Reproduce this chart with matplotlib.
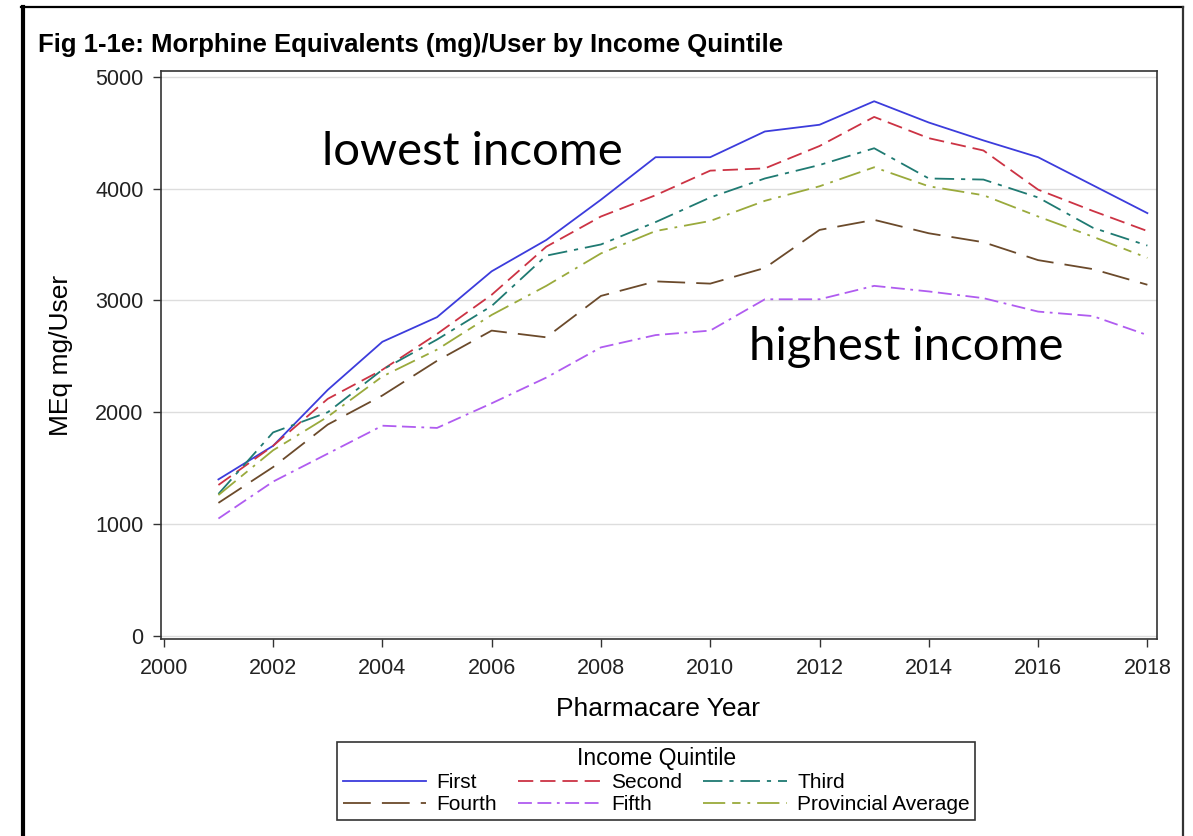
import matplotlib
matplotlib.use("Agg")
import matplotlib.pyplot as plt
from matplotlib.lines import Line2D

plt.rcParams['font.family'] = ['Liberation Sans', 'DejaVu Sans']
plt.rcParams['lines.scale_dashes'] = False

# pharmacare years
years = list(range(2001, 2019))

# morphine equivalents (mg) per user, by income quintile
first = [1400, 1700, 2200, 2630, 2850, 3260, 3540, 3900, 4280, 4280,
         4510, 4570, 4780, 4590, 4430, 4280, 4030, 3780]
second = [1350, 1700, 2120, 2380, 2700, 3050, 3480, 3750, 3940, 4160,
          4180, 4380, 4640, 4450, 4340, 3990, 3800, 3620]
third = [1270, 1820, 2000, 2380, 2650, 2950, 3400, 3500, 3700, 3920,
         4090, 4210, 4360, 4090, 4080, 3920, 3650, 3490]
fourth = [1190, 1510, 1890, 2150, 2460, 2730, 2670, 3040, 3170, 3150,
          3290, 3630, 3720, 3600, 3520, 3360, 3280, 3140]
fifth = [1050, 1380, 1630, 1880, 1860, 2080, 2310, 2580, 2690, 2730,
         3010, 3010, 3130, 3080, 3020, 2900, 2860, 2690]
provincial = [1260, 1660, 1960, 2320, 2560, 2870, 3130, 3420, 3620, 3710,
              3890, 4020, 4190, 4020, 3940, 3750, 3570, 3380]

labels = ['First', 'Second', 'Third', 'Fourth', 'Fifth', 'Provincial Average']
series = [first, second, third, fourth, fifth, provincial]
colors = ['#3c3cdc', '#cc3344', '#1f7a72', '#6b4a2b', '#b05cf0', '#9aaa3c']
dashes = [None, (11, 5), (14, 5, 3, 5), (20, 8), (10, 4, 10, 4, 2, 4), (16, 5, 6, 5, 2, 5)]

fig = plt.figure(figsize=(11.93, 8.36), dpi=100)
ax = fig.add_axes([0.135, 0.2356, 0.835, 0.6794])

handles = []
for vals, lab, col, d in zip(series, labels, colors, dashes):
    line, = ax.plot(years, vals, color=col, lw=1.3, label=lab)
    if d is not None:
        line.set_dashes(d)
    handles.append(line)

ax.set_xlim(1999.95, 2018.18)
ax.set_ylim(-27, 5050)
ax.set_xticks(range(2000, 2019, 2))
ax.set_yticks(range(0, 5001, 1000))
ax.grid(axis='y', color='#dddddd', lw=1)
ax.set_axisbelow(True)
ax.tick_params(labelsize=15.5, length=6, width=1, color='#333333', labelcolor='#222222')
ax.tick_params(axis='x', pad=8)
ax.tick_params(axis='y', pad=6.5)
for s in ax.spines.values():
    s.set_linewidth(1.2)
    s.set_color('#333333')

ax.set_xlabel('Pharmacare Year', fontsize=19)
ax.set_ylabel('MEq mg/User', fontsize=19)
ax.xaxis.set_label_coords(0.499, -0.102)
ax.yaxis.set_label_coords(-0.0884, 0.5)

fig.text(0.032, 0.946, 'Fig 1-1e: Morphine Equivalents (mg)/User by Income Quintile',
         fontsize=18.5, fontweight='bold', va='center')

fig.text(0.27, 0.818, 'lowest income', fontsize=34, family='Lato', va='center')
fig.text(0.628, 0.585, 'highest income', fontsize=34, family='Lato', va='center')

# legend is filled column by column, so reorder to read row by row
order = [0, 3, 1, 4, 2, 5]
leg = fig.legend([handles[i] for i in order], [labels[i] for i in order],
                 loc='center', bbox_to_anchor=(0.55, 0.066), ncol=3,
                 title='Income Quintile', fontsize=15, title_fontsize=16.5,
                 frameon=True, fancybox=False, edgecolor='black',
                 handlelength=4.0, handletextpad=0.5, columnspacing=1.0,
                 labelspacing=0.15, borderpad=0.25)
leg.get_frame().set_linewidth(1.2)

# outer frame
fig.add_artist(Line2D([0.019, 0.019], [0, 0.992], color='black', lw=3, transform=fig.transFigure))
fig.add_artist(Line2D([0.018, 0.992], [0.992, 0.992], color='black', lw=1.6, transform=fig.transFigure))
fig.add_artist(Line2D([0.992, 0.992], [0, 0.992], color='#333333', lw=1.6, transform=fig.transFigure))

fig.savefig('out.png', dpi=100)
